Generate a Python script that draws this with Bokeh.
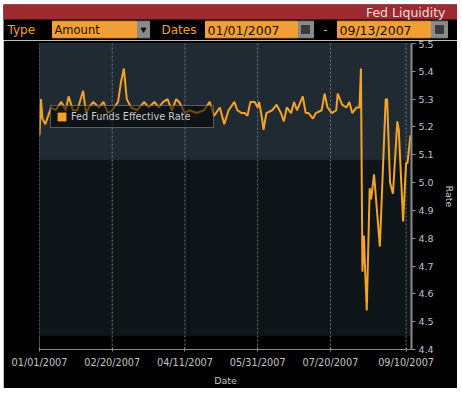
import pandas as pd
from bokeh.plotting import figure
from bokeh.layouts import column
from bokeh.models import (ColumnDataSource, Range1d, FixedTicker, DatetimeTickFormatter,
                          PrintfTickFormatter, Legend, LegendItem)
from bokeh.core.properties import value
from bokeh.embed import file_html
from bokeh.resources import INLINE

# ---------------- data ----------------
dates = [
    "2007-01-01", "2007-01-02", "2007-01-03", "2007-01-05", "2007-01-09", "2007-01-12",
    "2007-01-16", "2007-01-19", "2007-01-21", "2007-01-24", "2007-01-27", "2007-01-31",
    "2007-02-02", "2007-02-04", "2007-02-07", "2007-02-11", "2007-02-14", "2007-02-17",
    "2007-02-20", "2007-02-24", "2007-02-26", "2007-02-28", "2007-03-02", "2007-03-05",
    "2007-03-09", "2007-03-14", "2007-03-17", "2007-03-21", "2007-03-24", "2007-03-27",
    "2007-03-30", "2007-04-02", "2007-04-05", "2007-04-07", "2007-04-11", "2007-04-14",
    "2007-04-19", "2007-04-24", "2007-04-28", "2007-05-01", "2007-05-05", "2007-05-08",
    "2007-05-11", "2007-05-15", "2007-05-17", "2007-05-20", "2007-05-22", "2007-05-24",
    "2007-05-26", "2007-05-29", "2007-05-31", "2007-06-01", "2007-06-03", "2007-06-04",
    "2007-06-06", "2007-06-10", "2007-06-13", "2007-06-16", "2007-06-18", "2007-06-20",
    "2007-06-23", "2007-06-25", "2007-06-27", "2007-07-01", "2007-07-03", "2007-07-05",
    "2007-07-08", "2007-07-10", "2007-07-14", "2007-07-16", "2007-07-18", "2007-07-21",
    "2007-07-24", "2007-07-25", "2007-07-28", "2007-07-31", "2007-08-02", "2007-08-04",
    "2007-08-07", "2007-08-09", "2007-08-10", "2007-08-11", "2007-08-12", "2007-08-13",
    "2007-08-14", "2007-08-16", "2007-08-17", "2007-08-19", "2007-08-23", "2007-08-27",
    "2007-08-28", "2007-08-30", "2007-09-01", "2007-09-04", "2007-09-05", "2007-09-06",
    "2007-09-08", "2007-09-10", "2007-09-11", "2007-09-13",
]
rates = [
    5.17, 5.30, 5.23, 5.21, 5.27, 5.26,
    5.29, 5.26, 5.31, 5.26, 5.26, 5.33,
    5.25, 5.27, 5.29, 5.27, 5.29, 5.25,
    5.26, 5.29, 5.36, 5.41, 5.30, 5.27,
    5.26, 5.29, 5.27, 5.29, 5.27, 5.29,
    5.30, 5.26, 5.30, 5.29, 5.25, 5.26,
    5.25, 5.26, 5.29, 5.24, 5.27, 5.21,
    5.26, 5.29, 5.26, 5.25, 5.25, 5.24,
    5.29, 5.29, 5.27, 5.29, 5.23, 5.19,
    5.25, 5.26, 5.28, 5.25, 5.22, 5.27,
    5.25, 5.29, 5.26, 5.31, 5.25, 5.25,
    5.23, 5.25, 5.26, 5.32, 5.27, 5.25,
    5.26, 5.32, 5.28, 5.27, 5.29, 5.25,
    5.27, 5.27, 5.41, 4.68, 4.81, 4.67,
    4.54, 4.98, 4.94, 5.03, 4.77, 5.30,
    5.30, 5.00, 4.96, 5.22, 5.19, 5.08,
    4.86, 5.07, 5.07, 5.17,
]
series_name = "Fed Funds Effective Rate"
x_tick_dates = ["2007-01-01", "2007-02-20", "2007-04-11", "2007-05-31", "2007-07-20", "2007-09-10"]
y_ticks = [4.4, 4.5, 4.6, 4.7, 4.8, 4.9, 5.0, 5.1, 5.2, 5.3, 5.4, 5.5]
x_start, x_end = "2007-01-01", "2007-09-13 18:00"
y_start, y_end = 4.4, 5.5
upper_band = (5.08, 5.5)
lower_band = (4.45, 5.08)

header_title = "Fed Liquidity"
type_label, type_value = "Type", "Amount"
dates_label = "Dates"
date_from, date_to = "01/01/2007", "09/13/2007"

ORANGE = "#f4a327"
FONT_NAME = "DejaVu Sans"
FONT = value(FONT_NAME)
W = 454
HEADER_H, MAIN_H = 36, 348


def no_frame_align(fig):
    if "frame_align" in fig.properties():
        fig.frame_align = False


# ---------------- header (a pixel-space strip) ----------------
h = figure(width=W, height=HEADER_H, x_range=Range1d(0, W), y_range=Range1d(HEADER_H, 0),
           toolbar_location=None, output_backend="svg", min_border=0,
           min_border_left=0, min_border_right=0, min_border_top=0, min_border_bottom=0,
           x_axis_location=None, y_axis_location=None,
           background_fill_color="#000000", border_fill_color="#000000",
           outline_line_color=None)
no_frame_align(h)
h.grid.visible = False
h.quad(left=[0], right=[W], top=[0], bottom=[14.5], color="#9c2a30")
h.text(x=[442], y=[7.5], text=[header_title], text_align="right", text_baseline="middle",
       text_font=FONT, text_font_size="12.5px", text_color="#e8dcdc")
h.quad(left=[49, 202, 334], right=[133, 294, 427],
       top=[16.7, 16.7, 16.7], bottom=[33.3, 33.3, 33.3], color="#f19f36")
h.quad(left=[134, 295, 428], right=[146, 310, 444],
       top=[16.7, 16.7, 16.7], bottom=[33.3, 33.3, 33.3], color="#8a8a8a")
h.quad(left=[298, 432], right=[306, 440], top=[21, 21], bottom=[29, 29], color="#3a3a3a")
h.scatter(x=[140], y=[25], marker="inverted_triangle", size=5, color="#111111")
h.text(x=[4, 158], y=[25.5, 25.5], text=[type_label, dates_label], text_align="left",
       text_baseline="middle", text_font=FONT, text_font_size="12px", text_color="#f0a030")
h.text(x=[322], y=[25], text=["-"], text_align="center", text_baseline="middle",
       text_font=FONT, text_font_size="12px", text_color="#f0a030")
h.text(x=[51], y=[25.5], text=[type_value], text_align="left", text_baseline="middle",
       text_font=FONT, text_font_size="11.5px", text_color="#1c1206")
h.text(x=[204, 336], y=[25.5, 25.5], text=[date_from, date_to], text_align="left",
       text_baseline="middle", text_font=FONT, text_font_size="12.5px", text_color="#1c1206")

# ---------------- main chart ----------------
xs, xe = pd.Timestamp(x_start), pd.Timestamp(x_end)
p = figure(width=W, height=MAIN_H, x_axis_type="datetime", y_axis_location="right",
           x_range=Range1d(xs, xe), y_range=Range1d(y_start, y_end),
           toolbar_location=None, output_backend="svg",
           min_border_left=36, min_border_right=42, min_border_top=3, min_border_bottom=36,
           background_fill_color="#000000", border_fill_color="#000000",
           outline_line_color=None)
no_frame_align(p)
p.grid.visible = False

p.quad(left=[xs], right=[xe], bottom=[upper_band[0]], top=[upper_band[1]], color="#1f2a33")
p.quad(left=[xs], right=[xe], bottom=[lower_band[0]], top=[lower_band[1]], color="#0f1619")

tick_ts = pd.to_datetime(x_tick_dates)
p.segment(x0=tick_ts, y0=y_start, x1=tick_ts, y1=y_end, line_color="#737b82",
          line_dash="2 2", line_width=1)

date_ts = pd.to_datetime(dates)
src = ColumnDataSource(dict(date=date_ts, rate=rates))
p.line("date", "rate", source=src, line_color=ORANGE, line_width=2)

# zero-size swatch renderer (only used for the legend's square)
swatch = p.quad(left=[date_ts[0]], right=[date_ts[0]], top=[rates[0]], bottom=[rates[0]],
                fill_color=ORANGE, line_color=None)
legend = Legend(items=[LegendItem(label=series_name, renderers=[swatch])],
                location=(11, 221), padding=5, margin=0, spacing=0,
                glyph_width=11, glyph_height=11, label_height=10, label_width=137,
                label_standoff=4,
                background_fill_color="#000000", background_fill_alpha=0.55,
                border_line_color="#a8a8a8", border_line_width=1.5,
                label_text_color="#cccccc", label_text_font=FONT_NAME,
                label_text_font_size="9.7px")
p.add_layout(legend)

xa = p.xaxis[0]
xa.ticker = FixedTicker(ticks=[t.value / 1e6 for t in tick_ts])
fmt = "%m/%d/%Y"
xa.formatter = DatetimeTickFormatter(days=fmt, months=fmt, years=fmt, hours=fmt,
                                     hourmin=fmt, minutes=fmt, minsec=fmt,
                                     seconds=fmt, milliseconds=fmt, microseconds=fmt)
xa.axis_label = "Date"
xa.axis_line_color = "#8a8a8a"
xa.major_tick_line_color = "#8a8a8a"
xa.major_tick_in = 2
xa.major_tick_out = 2
xa.minor_tick_line_color = None
xa.major_label_text_color = "#c4c4c4"
xa.major_label_text_font = FONT_NAME
xa.major_label_text_font_size = "9.7px"
xa.major_label_standoff = 5
xa.axis_label_text_color = "#c4c4c4"
xa.axis_label_text_font = FONT_NAME
xa.axis_label_text_font_size = "9.5px"
xa.axis_label_text_font_style = "normal"
xa.axis_label_standoff = 4

ya = p.yaxis[0]
ya.ticker = FixedTicker(ticks=y_ticks)
ya.formatter = PrintfTickFormatter(format="%.1f")
ya.axis_label = "Rate"
ya.axis_line_color = "#8a8a8a"
ya.axis_line_width = 2
ya.major_tick_line_color = "#8a8a8a"
ya.major_tick_in = 0
ya.major_tick_out = 4
ya.minor_tick_line_color = None
ya.major_label_text_color = "#c4c4c4"
ya.major_label_text_font = FONT_NAME
ya.major_label_text_font_size = "9.5px"
ya.major_label_standoff = 3
ya.axis_label_text_color = "#c4c4c4"
ya.axis_label_text_font = FONT_NAME
ya.axis_label_text_font_size = "9.5px"
ya.axis_label_text_font_style = "normal"
ya.axis_label_standoff = 7

layout = column(h, p, spacing=0, margin=(4, 0, 0, 3))
open("out.html", "w").write(file_html(layout, INLINE))
